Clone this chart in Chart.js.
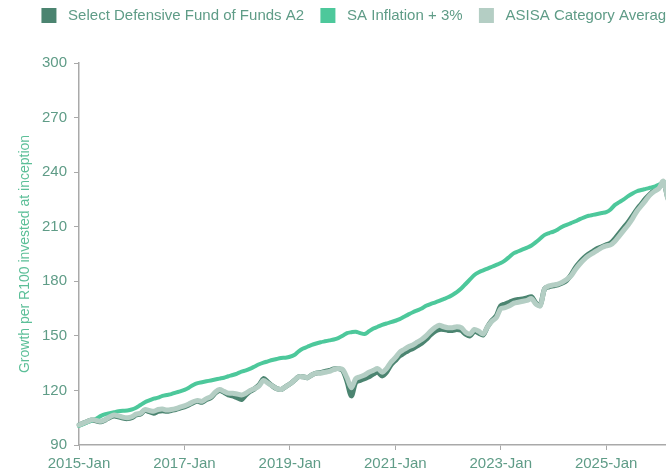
<!DOCTYPE html>
<html>
<head>
<meta charset="utf-8">
<script src="https://cdn.jsdelivr.net/npm/chart.js@4.4.1/dist/chart.umd.min.js"></script>
<style>
  html, body { margin: 0; padding: 0; background: #fff; overflow: hidden; }
  #wrap { width: 716px; height: 473px; }
</style>
</head>
<body>
<div id="wrap"><canvas id="growthChart" width="716" height="473"></canvas></div>
<script>
// Growth of R100 since 2015-Jan, monthly
const years = [2015, 2016, 2017, 2018, 2019, 2020, 2021, 2022, 2023, 2024, 2025, 2026, 2027];
const monthNames = ["Jan", "Feb", "Mar", "Apr", "May", "Jun", "Jul", "Aug", "Sep", "Oct", "Nov", "Dec"];
const seriesNames = ["Select Defensive Fund of Funds A2", "SA Inflation + 3%", "ASISA Category Average"];

const fundValues = [
  101, 102, 103, 103.8, 103.2, 102.8, 103.8, 105.2, 106, 105.5, 104.8, 104.5,
  105, 106.5, 107, 109, 108.3, 107.5, 108.5, 108.8, 108.5, 109, 109.5, 110.3,
  111, 112, 113.3, 114, 113.5, 115, 116, 118.5, 120, 119, 117.5, 117,
  116, 115, 117.5, 119.5, 121, 123, 126.5, 124.5, 122.5, 121, 120.5, 122,
  123.5, 125.5, 127.5, 127.5, 127, 128.5, 129.5, 129.8, 130.5, 131, 131.8, 132,
  131, 125, 117, 124.5, 125.5, 126.5, 127.5, 129, 130, 128, 130, 134,
  136.5, 139, 140.5, 142, 143, 144.5, 146, 148, 150.5, 152.5, 153.5, 153.5,
  153, 153, 153.5, 153, 151, 150, 152.5, 151.5, 150.5, 155, 158.5, 161,
  166.5, 167.5, 168.5, 169.5, 170, 170.3, 170.8, 171.5, 168, 167, 176, 177,
  177.5, 178, 179, 180.5, 183.5, 187.5, 190.5, 193, 195, 196.5, 198, 199,
  200, 201, 203.5, 206.5, 209.5, 212.5, 216, 219.5, 222.5, 225.5, 228, 230,
  231.5, 234.5, 226
];

const inflationValues = [
  100.5, 101.5, 102.5, 103.5, 104.5, 106, 107, 107.5, 108, 108.5, 108.8, 109,
  109.5, 110.5, 112, 113.5, 114.5, 115.5, 116, 117, 117.5, 118, 118.8, 119.5,
  120.3, 121.5, 123, 124, 124.5, 125, 125.5, 126, 126.5, 127, 127.8, 128.5,
  129.3, 130.3, 131, 132, 133.2, 134.4, 135.3, 136, 136.7, 137.3, 137.8, 138,
  138.5, 139.5, 141.5, 143, 144, 145, 145.8, 146.5, 147, 147.5, 148, 148.8,
  150, 151.5, 152, 152.3, 151.5, 151, 152.5, 154, 155, 156, 156.8, 157.5,
  158.3, 159.2, 160.5, 161.8, 163, 164, 165, 166.5, 167.5, 168.3, 169.2, 170.2,
  171.2, 172.5, 174, 176, 178.5, 181, 183.5, 185, 186, 187, 188, 189,
  190, 191.5, 193.5, 195.5, 196.5, 197.5, 198.5, 199.7, 201.5, 203.5, 205.5, 206.5,
  207.3, 208.5, 210, 211, 212, 213, 214.2, 215.2, 216, 216.5, 217, 217.5,
  218, 219.5, 222, 223.5, 225, 226.8, 228.3, 229.5, 230.2, 230.8, 231.4, 232,
  233.2, 234, 234.5
];

const categoryValues = [
  101, 102, 103, 104, 103.5, 103, 104, 105.5, 106.5, 106, 105.3, 105,
  105.5, 107, 107.5, 109.5, 109, 108.5, 109.5, 109.8, 109.2, 109.5, 110, 110.8,
  111.5, 112.5, 113.8, 114.5, 114, 115.5, 116.5, 119, 120.5, 119.5, 118.5, 118.5,
  118, 117.5, 118.5, 120, 121, 122.5, 125.5, 124, 122.5, 121, 120.5, 122,
  123.5, 125.5, 127.5, 127.5, 127, 128.5, 129.5, 129.5, 130, 130.5, 131.5, 132,
  131.5, 127, 121.5, 126.5, 127.5, 128.5, 130, 131, 132, 130, 132, 135.5,
  138, 141, 142.5, 144, 145, 146.5, 148, 150, 152.5, 154.5, 155.8, 155,
  154.5, 154.5, 155, 154.5, 152, 151, 153.5, 152.5, 151, 155, 158, 160,
  165, 165.5, 166.5, 168, 168.5, 169, 169.5, 170.5, 167.5, 166.5, 176, 177.5,
  178, 178.5, 179.5, 181, 183, 186.5, 189.5, 192, 194, 195.5, 197, 198.5,
  199.5, 200, 202, 205, 208, 211, 214.5, 218.5, 221.5, 224.5, 227.5, 229.5,
  231, 235, 225.5
];

// month labels; the axis runs a little past the visible window
const monthLabels = [];
years.forEach((y) => monthNames.forEach((m) => monthLabels.push(`${y}-${m}`)));
const axisLabels = monthLabels.slice(0, 146);

const FONT = "'Liberation Sans', Arial, sans-serif";
const TEXT_COLOR = "#5f9c87";

// extra room under the legend
const legendGap = {
  id: "legendGap",
  beforeInit(chart) {
    const fit = chart.legend.fit;
    chart.legend.fit = function () {
      fit.bind(chart.legend)();
      this.height += 30;
    };
  },
};

const ctx = document.getElementById("growthChart").getContext("2d");
new Chart(ctx, {
  type: "line",
  data: {
    labels: axisLabels,
    datasets: [
      {
        label: seriesNames[0],
        data: fundValues,
        borderColor: "#4b8470",
        backgroundColor: "#4b8470",
        borderWidth: 5,
        order: 3,
      },
      {
        label: seriesNames[1],
        data: inflationValues,
        borderColor: "#4dc89b",
        backgroundColor: "#4dc89b",
        borderWidth: 4,
        order: 2,
      },
      {
        label: seriesNames[2],
        data: categoryValues,
        borderColor: "#b4cec4",
        backgroundColor: "#b4cec4",
        borderWidth: 5,
        order: 1,
      },
    ],
  },
  options: {
    responsive: false,
    animation: false,
    layout: { padding: 0 },
    elements: {
      point: { radius: 0 },
      line: { tension: 0.3, borderCapStyle: "round", borderJoinStyle: "round" },
    },
    plugins: {
      tooltip: { enabled: false },
      legend: {
        position: "top",
        labels: {
          boxWidth: 15,
          boxHeight: 15,
          padding: 8,
          color: TEXT_COLOR,
          font: { family: FONT, size: 15 },
          generateLabels: (chart) => {
            const items = Chart.defaults.plugins.legend.labels.generateLabels(chart);
            items.sort((a, b) => a.datasetIndex - b.datasetIndex);
            items.forEach((item) => {
              item.text = " " + item.text + (item.datasetIndex < 2 ? "  " : "");
              item.lineWidth = 0;
            });
            return items;
          },
        },
      },
    },
    scales: {
      x: {
        type: "category",
        offset: false,
        grid: { drawOnChartArea: false, drawTicks: true, tickLength: 5, color: "#a9a9a9" },
        border: { color: "#a9a9a9", width: 1.5 },
        ticks: {
          autoSkip: false,
          maxRotation: 0,
          padding: 5,
          color: TEXT_COLOR,
          font: { family: FONT, size: 15 },
          callback: function (value, index) {
            return index % 24 === 0 && index <= 120 ? this.getLabelForValue(value) : null;
          },
        },
        afterFit: (scale) => {
          scale.height = 28;
        },
      },
      y: {
        min: 90,
        max: 300,
        grid: { drawOnChartArea: false, drawTicks: true, tickLength: 5, color: "#a9a9a9" },
        border: { color: "#a9a9a9", width: 1.5 },
        ticks: {
          stepSize: 30,
          padding: 7,
          color: TEXT_COLOR,
          font: { family: FONT, size: 15 },
        },
        title: {
          display: true,
          text: "Growth per R100 invested at inception",
          color: "#5cbf98",
          font: { family: FONT, size: 14 },
          padding: { top: 17, bottom: 0 },
        },
        afterFit: (scale) => {
          scale.width = 79;
        },
      },
    },
  },
  plugins: [legendGap],
});
</script>
</body>
</html>
